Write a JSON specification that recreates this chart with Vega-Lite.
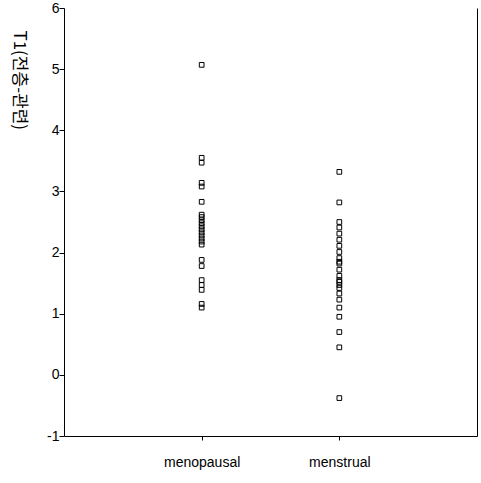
{
  "$schema": "https://vega.github.io/schema/vega-lite/v6.json",
  "width": 413,
  "height": 428,
  "autosize": "none",
  "padding": {"left": 64, "top": 8, "right": 4, "bottom": 47},
  "config": {"view": {"stroke": null}, "font": "Liberation Sans"},
  "data": {"values": [
    {"group": "menopausal", "t1": 5.07},
    {"group": "menopausal", "t1": 3.55},
    {"group": "menopausal", "t1": 3.47},
    {"group": "menopausal", "t1": 3.14},
    {"group": "menopausal", "t1": 3.08},
    {"group": "menopausal", "t1": 2.83},
    {"group": "menopausal", "t1": 2.62},
    {"group": "menopausal", "t1": 2.58},
    {"group": "menopausal", "t1": 2.53},
    {"group": "menopausal", "t1": 2.48},
    {"group": "menopausal", "t1": 2.43},
    {"group": "menopausal", "t1": 2.38},
    {"group": "menopausal", "t1": 2.33},
    {"group": "menopausal", "t1": 2.28},
    {"group": "menopausal", "t1": 2.23},
    {"group": "menopausal", "t1": 2.18},
    {"group": "menopausal", "t1": 2.13},
    {"group": "menopausal", "t1": 1.88},
    {"group": "menopausal", "t1": 1.78},
    {"group": "menopausal", "t1": 1.55},
    {"group": "menopausal", "t1": 1.47},
    {"group": "menopausal", "t1": 1.39},
    {"group": "menopausal", "t1": 1.16},
    {"group": "menopausal", "t1": 1.1},
    {"group": "menstrual", "t1": 3.32},
    {"group": "menstrual", "t1": 2.82},
    {"group": "menstrual", "t1": 2.5},
    {"group": "menstrual", "t1": 2.41},
    {"group": "menstrual", "t1": 2.31},
    {"group": "menstrual", "t1": 2.21},
    {"group": "menstrual", "t1": 2.11},
    {"group": "menstrual", "t1": 2.01},
    {"group": "menstrual", "t1": 1.91},
    {"group": "menstrual", "t1": 1.85},
    {"group": "menstrual", "t1": 1.82},
    {"group": "menstrual", "t1": 1.72},
    {"group": "menstrual", "t1": 1.62},
    {"group": "menstrual", "t1": 1.55},
    {"group": "menstrual", "t1": 1.52},
    {"group": "menstrual", "t1": 1.47},
    {"group": "menstrual", "t1": 1.42},
    {"group": "menstrual", "t1": 1.33},
    {"group": "menstrual", "t1": 1.23},
    {"group": "menstrual", "t1": 1.1},
    {"group": "menstrual", "t1": 0.95},
    {"group": "menstrual", "t1": 0.7},
    {"group": "menstrual", "t1": 0.45},
    {"group": "menstrual", "t1": -0.38}
  ]},
  "layer": [
    {
      "mark": {"type": "point", "shape": "square", "size": 22, "filled": false, "stroke": "#000000", "strokeWidth": 1, "opacity": 1},
      "encoding": {
        "x": {"field": "group", "type": "nominal", "sort": ["menopausal", "menstrual"],
              "scale": {"type": "point", "padding": 1},
              "axis": {"title": null, "labelAngle": 0, "labelFontSize": 14, "labelColor": "#000000", "labelFont": "Liberation Sans",
                       "domainColor": "#000000", "tickColor": "#000000", "tickSize": 4, "labelPadding": 15}},
        "y": {"field": "t1", "type": "quantitative",
              "scale": {"domain": [-1, 6], "nice": false, "zero": false},
              "axis": {"title": "T1(전층-관련)", "titleAngle": 90, "titleFontSize": 17, "titleFontWeight": "normal",
                       "titleFont": "Noto Sans CJK KR",
                       "titleColor": "#000000", "titleAnchor": "end", "titleAlign": "left", "titleBaseline": "bottom",
                       "titleX": -55, "titleY": 22, "format": "d",
                       "values": [-1, 0, 1, 2, 3, 4, 5, 6], "grid": false, "labelFontSize": 14, "labelColor": "#000000",
                       "labelFont": "Liberation Sans",
                       "labelExpr": "replace(datum.label, '\u2212', '-')",
                       "domainColor": "#000000", "tickColor": "#000000", "tickSize": 5, "labelPadding": 0}}
      }
    },
    {
      "mark": {"type": "point", "opacity": 0},
      "encoding": {
        "y": {"field": "t1", "type": "quantitative",
              "scale": {"domain": [-1, 6], "nice": false, "zero": false},
              "axis": {"orient": "right", "title": null, "labels": false, "ticks": false, "grid": false, "domainColor": "#000000"}}
      }
    }
  ],
  "resolve": {"axis": {"y": "independent"}}
}
